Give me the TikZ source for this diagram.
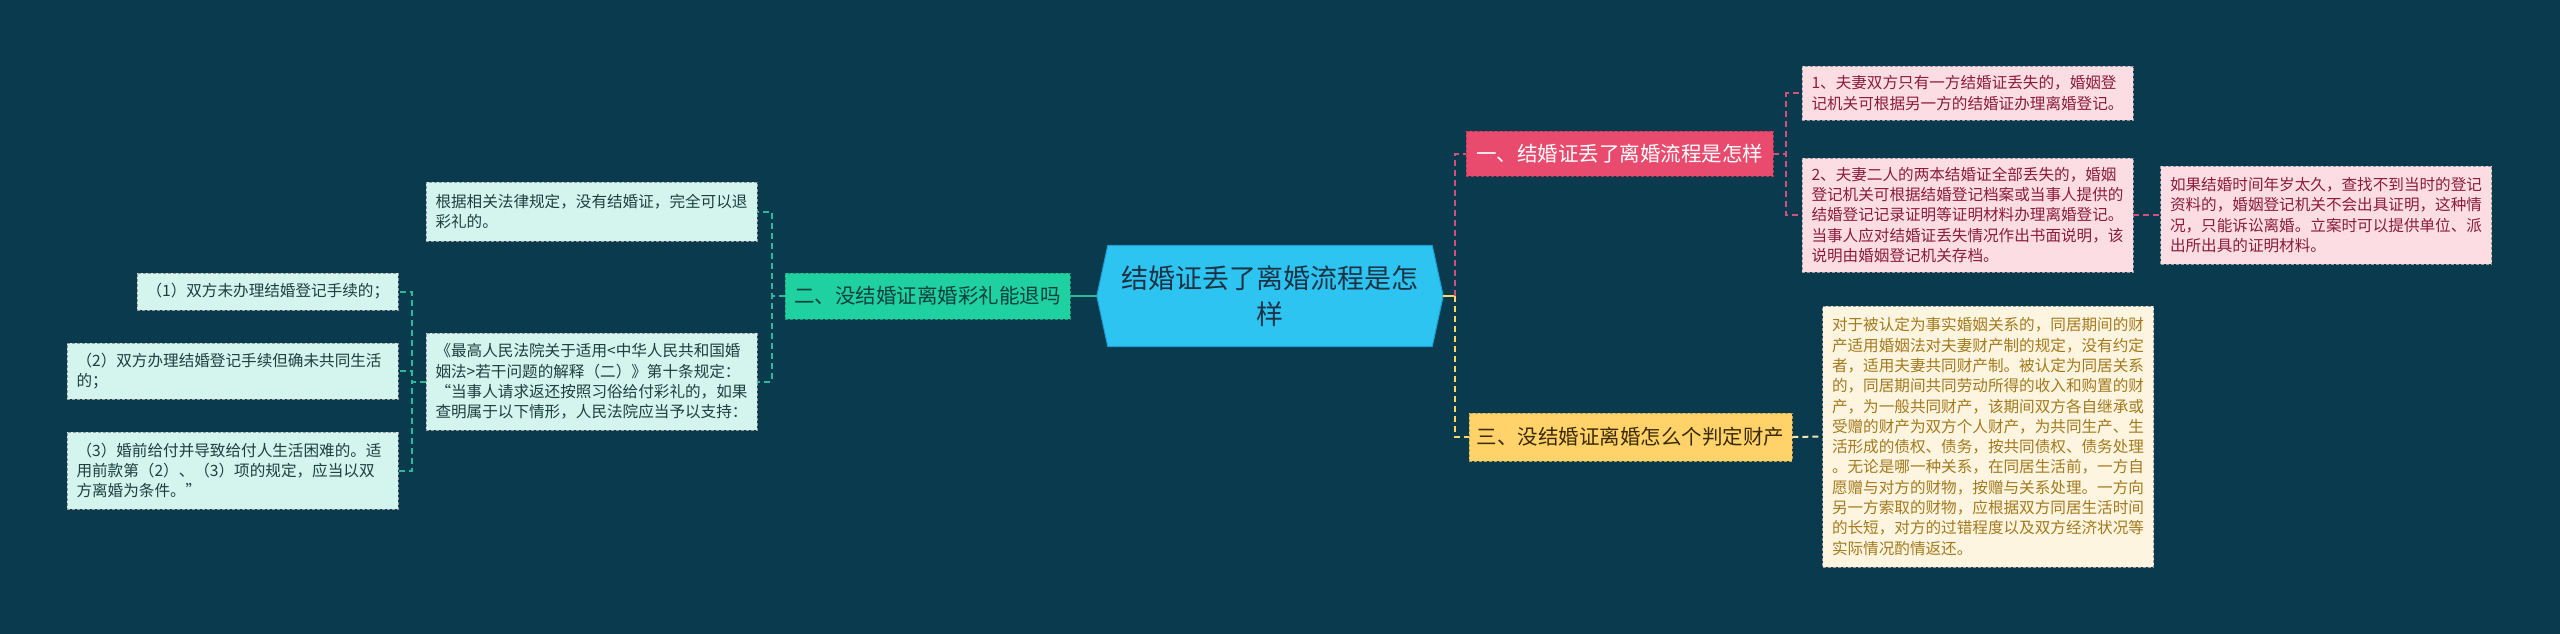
\documentclass[tikz,border=0pt]{standalone}
\usepackage{fontspec}
\setmainfont{Noto Sans CJK SC}
\usetikzlibrary{calc}
\pgfdeclarelayer{bg}
\pgfsetlayers{bg,main}
\definecolor{bgc}{HTML}{0A3A4E}
\definecolor{rootfill}{HTML}{2EC4F2}
\definecolor{rootdraw}{HTML}{1A9FD0}
\definecolor{roottext}{HTML}{1B3445}
\definecolor{onefill}{HTML}{E94B6E}
\definecolor{twofill}{HTML}{1FD1A0}
\definecolor{twotext}{HTML}{0D3F3F}
\definecolor{threefill}{HTML}{FFD36A}
\definecolor{threetext}{HTML}{3A2A05}
\definecolor{pinkfill}{HTML}{FDDDE4}
\definecolor{pinktext}{HTML}{8A1C3E}
\definecolor{creamfill}{HTML}{FDF5E0}
\definecolor{creamtext}{HTML}{A47A1E}
\definecolor{mintfill}{HTML}{D3F5EE}
\definecolor{minttext}{HTML}{1F3F3F}
\definecolor{leafborder}{HTML}{9A9A9A}
\definecolor{connpink}{HTML}{D0527C}
\definecolor{connyellow}{HTML}{FFD766}
\definecolor{conncream}{HTML}{F3E3B5}
\definecolor{connteal}{HTML}{2DB89A}
\begin{document}
\begin{tikzpicture}[x=1pt,y=-1pt,
  rootnode/.style={rectangle, inner sep=0pt, minimum width=346, minimum height=101,
    align=center, text=roottext, font=\fontsize{27}{36}\selectfont},
  lvlone/.style={rectangle, inner sep=0pt, fill=#1, draw=#1!75!black,
    dash pattern=on 3pt off 2pt, line width=0.8pt, font=\fontsize{20.5}{24}\selectfont},
  leafbox/.style={rectangle, inner xsep=9.5pt, inner ysep=0pt, text width=312,
    align=left, font=\fontsize{15.6}{20.3}\selectfont,
    draw=leafborder, dash pattern=on 3pt off 2pt, line width=0.8pt},
  leafpink/.style={leafbox, fill=pinkfill, text=pinktext},
  leafcream/.style={leafbox, fill=creamfill, text=creamtext},
  leafmint/.style={leafbox, fill=mintfill, text=minttext},
  conn/.style={line width=2pt, dash pattern=on 6pt off 4pt},
]
\begin{pgfonlayer}{bg}
\fill[bgc] (0,0) rectangle (2560,634);
\end{pgfonlayer}
\useasboundingbox (0,0) rectangle (2560,634);

% root
\node[rootnode] (root) at (1270,296) {结婚证丢了离婚流程是怎\\样};
\begin{pgfonlayer}{bg}
\filldraw[fill=rootfill, draw=rootdraw, line width=1pt]
  (root.west) -- ([xshift=11pt]root.north west) -- ([xshift=-11pt]root.north east)
  -- (root.east) -- ([xshift=-11pt]root.south east) -- ([xshift=11pt]root.south west) -- cycle;
\end{pgfonlayer}

% level one
\node[lvlone=onefill, minimum width=307, minimum height=45, text=white] (one) at (1619.5,153.5) {一、结婚证丢了离婚流程是怎样};
\node[lvlone=twofill, minimum width=285, minimum height=46, text=twotext] (two) at (927.5,296) {二、没结婚证离婚彩礼能退吗};
\node[lvlone=threefill, minimum width=323, minimum height=48, text=threetext] (three) at (1630.5,437) {三、没结婚证离婚怎么个判定财产};

% right leaves
\node[leafpink, minimum height=54] (l1) at (1967.5,93) {1、夫妻双方只有一方结婚证丢失的，婚姻登\\记机关可根据另一方的结婚证办理离婚登记。};
\node[leafpink, minimum height=114] (l2) at (1967.5,215) {2、夫妻二人的两本结婚证全部丢失的，婚姻\\登记机关可根据结婚登记档案或当事人提供的\\结婚登记记录证明等证明材料办理离婚登记。\\当事人应对结婚证丢失情况作出书面说明，该\\说明由婚姻登记机关存档。};
\node[leafpink, minimum height=98] (l3) at (2326,215) {如果结婚时间年岁太久，查找不到当时的登记\\资料的，婚姻登记机关不会出具证明，这种情\\况，只能诉讼离婚。立案时可以提供单位、派\\出所出具的证明材料。};
\node[leafcream, minimum height=261] (l4) at (1988,436.5) {对于被认定为事实婚姻关系的，同居期间的财\\产适用婚姻法对夫妻财产制的规定，没有约定\\者，适用夫妻共同财产制。被认定为同居关系\\的，同居期间共同劳动所得的收入和购置的财\\产，为一般共同财产，该期间双方各自继承或\\受赠的财产为双方个人财产，为共同生产、生\\活形成的债权、债务，按共同债权、债务处理\\。无论是哪一种关系，在同居生活前，一方自\\愿赠与对方的财物，按赠与关系处理。一方向\\另一方索取的财物，应根据双方同居生活时间\\的长短，对方的过错程度以及双方经济状况等\\实际情况酌情返还。};

% left leaves
\node[leafmint, minimum height=59] (la) at (591.5,211.5) {根据相关法律规定，没有结婚证，完全可以退\\彩礼的。};
\node[leafmint, minimum height=97] (lb) at (591.5,381.5) {《最高人民法院关于适用<中华人民共和国婚\\姻法>若干问题的解释（二）》第十条规定：\\“当事人请求返还按照习俗给付彩礼的，如果\\查明属于以下情形，人民法院应当予以支持：};
\node[leafmint, text width=242, minimum height=37] (lc) at (267.5,291.5) {（1）双方未办理结婚登记手续的；};
\node[leafmint, minimum height=56] (ld) at (232.5,371) {（2）双方办理结婚登记手续但确未共同生活\\的；};
\node[leafmint, minimum height=77] (le) at (232.5,470.5) {（3）婚前给付并导致给付人生活困难的。适\\用前款第（2）、（3）项的规定，应当以双\\方离婚为条件。”};

% connectors
\draw[connteal, line width=2pt] (root.west) -- (two.east);
\draw[connteal, conn] (two.west) -- ++(-13,0) |- (la.east);
\draw[connteal, conn] (two.west) -- ++(-13,0) |- (lb.east);
\draw[connteal, conn] (lb.west) -- ++(-14,0) |- (lc.east);
\draw[connteal, conn] (lb.west) -- ++(-14,0) |- (ld.east);
\draw[connteal, conn] (lb.west) -- ++(-14,0) |- (le.east);

\draw[connyellow, line width=2pt] (root.east) -- ++(12,0);
\draw[connpink, conn] ($(root.east)+(12,0)$) |- (one.west);
\draw[connyellow, conn] ($(root.east)+(12,0)$) |- (three.west);

\draw[connpink, conn] (one.east) -- ++(13,0) |- (l1.west);
\draw[connpink, conn] (one.east) -- ++(13,0) |- (l2.west);
\draw[connpink, conn] (l2.east) -- (l3.west);
\draw[conncream, conn] (three.east) -- (l4.west);
\end{tikzpicture}
\end{document}
